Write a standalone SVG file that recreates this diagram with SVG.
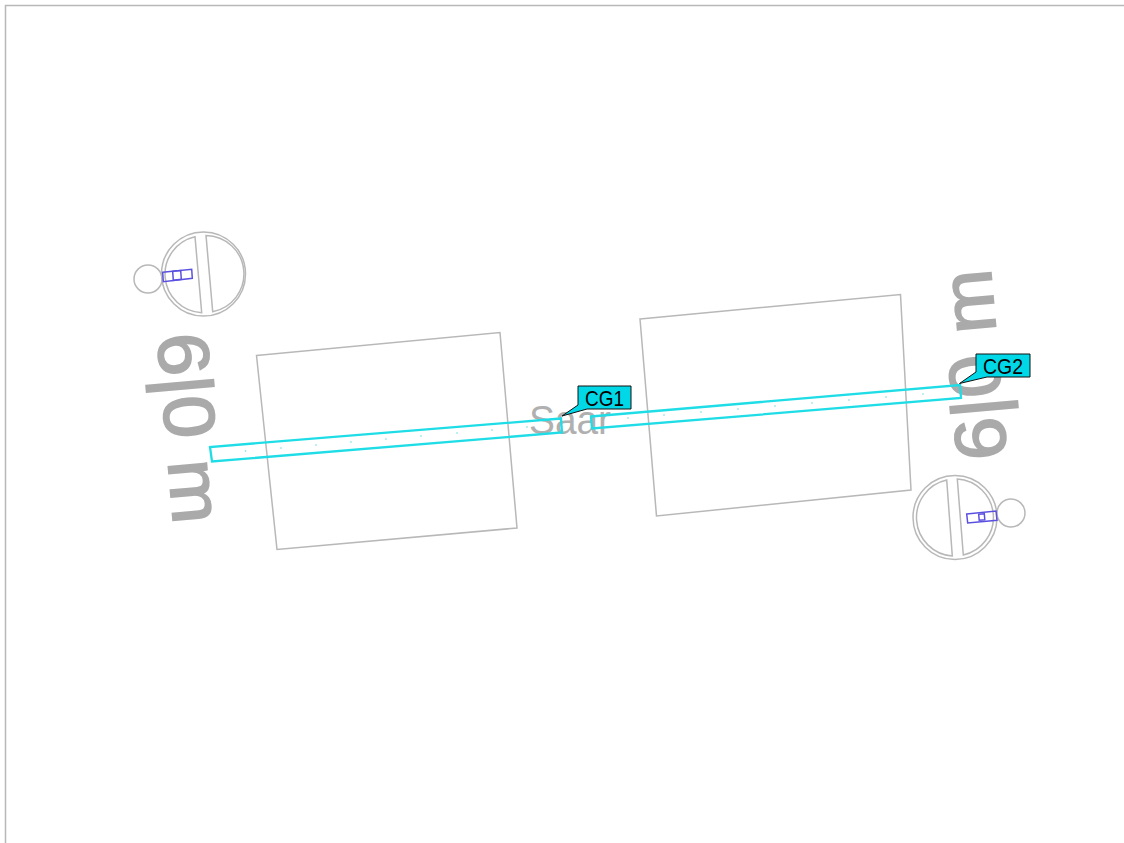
<svg xmlns="http://www.w3.org/2000/svg" width="1124" height="843" viewBox="0 0 1124 843">
<style>
.g{fill:none;stroke:#b8b8b8;stroke-width:1.5}
.c{fill:none;stroke:#1fdde6;stroke-width:2.3}
.b{fill:none;stroke:#5a50e0;stroke-width:1.5}
.d{fill:#6fd8e4;stroke:none}
.t{font-family:"Liberation Sans",Arial,sans-serif;fill:#aaaaaa;stroke:#aaaaaa;stroke-width:1.8}
.s{font-family:"Liberation Sans",Arial,sans-serif;fill:#b0b0b0}
.l{font-family:"Liberation Sans",Arial,sans-serif;font-size:22px;fill:#000;text-anchor:middle}
.k{fill:#00d8e8;stroke:#111;stroke-width:1}
</style>
<rect width="1124" height="843" fill="#fff"/>
<path class="g" d="M5.500 843V5.500H1124"/>
<g id="text-left"><text class="t" font-size="72" transform="translate(157,335) rotate(85)" textLength="191" lengthAdjust="spacingAndGlyphs">6|0 m</text></g>
<g id="text-right"><text class="t" font-size="72" transform="translate(1007,458) rotate(-95)" textLength="191" lengthAdjust="spacingAndGlyphs">6|0 m</text></g>
<g id="text-saar"><text class="s" font-size="40" x="529" y="434" textLength="82" lengthAdjust="spacingAndGlyphs">Saar</text></g>
<g id="slab-left"><path class="g" d="M256.500 355.500L500 332.500L517 528L277 549.500Z"/></g>
<g id="slab-right"><path class="g" d="M640 319L900.500 294.500L911 490L656.500 516Z"/></g>
<g id="pier-left">
<circle class="g" cx="203.500" cy="274" r="42"/>
<path class="g" d="M195 236.700A38.500 38.500 0 0 0 201.700 312.700Z"/>
<path class="g" d="M206 235.400A38.500 38.500 0 0 1 212.700 311.700Z"/>
<circle class="g" cx="148" cy="279" r="14"/>
<path class="b" d="M162.700 272.300L191.700 269.300L192.300 278.300L163.300 281.700Z"/>
<path class="b" d="M172.700 271.300L180.700 270.500L181.300 279.300L173.300 280.300Z"/>
</g>
<g id="pier-right">
<circle class="g" cx="955" cy="517.500" r="42"/>
<path class="g" d="M946.700 480A38.500 38.500 0 0 0 952.300 556Z"/>
<path class="g" d="M957.300 479A38.500 38.500 0 0 1 963.300 555Z"/>
<circle class="g" cx="1011" cy="513" r="14"/>
<path class="b" d="M966.700 514L996 511L997 520.300L967.700 523Z"/>
<path class="b" d="M978.700 514.300L984.300 513.800L984.800 519.800L979.200 520.300Z"/>
</g>
<g id="connectors">
<path class="c" d="M561 418.500L210 447L212 461.500L562 432.500Z"/>
<path class="c" d="M591 416.500L960 385L961 398L592 428.500Z"/>
<g class="d"><circle cx="245.500" cy="451" r=".8"/><circle cx="281" cy="448" r=".8"/><circle cx="316" cy="445" r=".8"/><circle cx="351" cy="442" r=".8"/><circle cx="386" cy="439" r=".8"/><circle cx="421" cy="436" r=".8"/><circle cx="457" cy="433" r=".8"/><circle cx="492" cy="430" r=".8"/><circle cx="527" cy="427" r=".8"/><circle cx="628" cy="418" r=".8"/><circle cx="664" cy="415" r=".8"/><circle cx="701" cy="412" r=".8"/><circle cx="738" cy="409" r=".8"/><circle cx="775" cy="406" r=".8"/><circle cx="812" cy="403" r=".8"/><circle cx="849" cy="400" r=".8"/><circle cx="886" cy="397" r=".8"/><circle cx="923" cy="394" r=".8"/></g>
</g>
<g id="cg1"><path class="k" d="M578 386H631V409H587L562 416L578 405Z"/><text class="l" x="604.500" y="405.500" textLength="39" lengthAdjust="spacingAndGlyphs">CG1</text></g>
<g id="cg2"><path class="k" d="M976 354H1030V377H987L959.500 383.500L976 372Z"/><text class="l" x="1003" y="373.500" textLength="40" lengthAdjust="spacingAndGlyphs">CG2</text></g>
</svg>
